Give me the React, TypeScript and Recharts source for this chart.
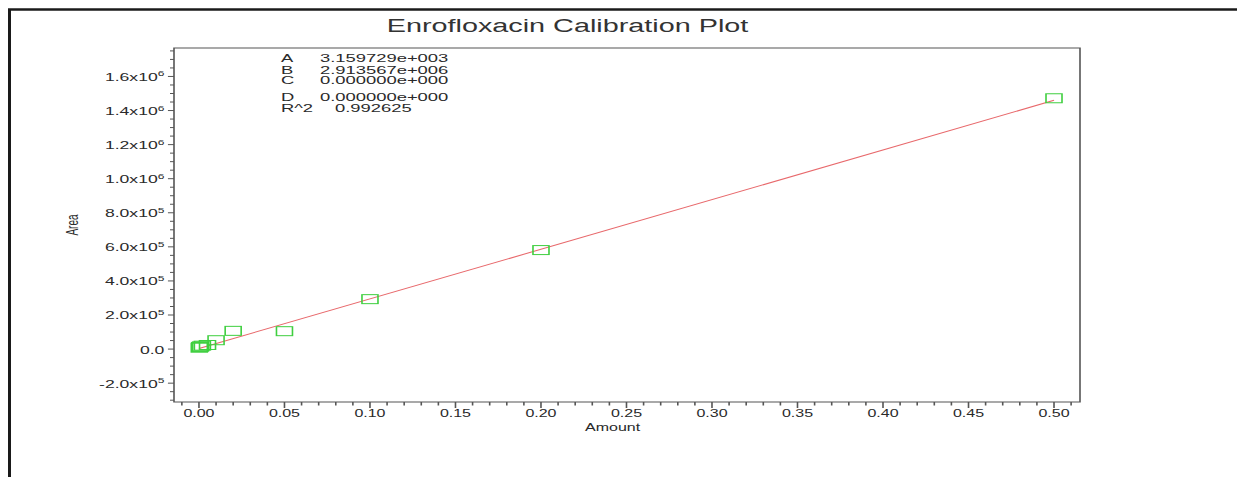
import React from "react";
import { ReferenceArea, Scatter, ScatterChart, XAxis, YAxis } from "recharts";

// calibration standards (amount vs peak area)
const amounts = [0.0002, 0.0005, 0.001, 0.002, 0.005, 0.01, 0.02, 0.05, 0.1, 0.2, 0.5];
const areas = [8000, 12000, 16000, 20000, 24000, 52000, 107000, 105000, 293000, 581000, 1472000];

// fitted line end points (A + B * x)
const fitAmounts = [0, 0.5];
const fitAreas = [3160, 1459943];

const coefNames = ["A", "B", "C", "D", "R^2"];
const coefValues = ["3.159729e+003", "2.913567e+006", "0.000000e+000", "0.000000e+000", "0.992625"];

const xMajorTicks = [0, 0.05, 0.1, 0.15, 0.2, 0.25, 0.3, 0.35, 0.4, 0.45, 0.5];
const yMajorTicks = [-200000, 0, 200000, 400000, 600000, 800000, 1000000, 1200000, 1400000, 1600000];

const X_DOMAIN: [number, number] = [-0.0146, 0.5152];
const Y_DOMAIN: [number, number] = [-310600, 1767000];

// the source image is stretched horizontally, so draw narrow and scale
const SX = 1.6;
const W = 1237 / SX;
const H = 477;
const FONT = "'Liberation Sans', Arial, sans-serif";
const INK = "#2a2a2a";
const AXIS = "#555";

const xMinorTicks = Array.from({ length: 53 }, (_, i) => Number((-0.01 + i * 0.01).toFixed(2)));
const yMinorTicks = Array.from({ length: 42 }, (_, i) => -300000 + i * 50000);

const points = amounts.map((a, i) => ({ amount: a, area: areas[i] }));
const fitLine = fitAmounts.map((a, i) => ({ amount: a, area: fitAreas[i] }));

const isMajorX = (v: number) => xMajorTicks.some((m) => Math.abs(m - v) < 1e-6);
const isMajorY = (v: number) => yMajorTicks.includes(v);

function XTick(props: any) {
  const { x, y, payload } = props;
  const major = isMajorX(payload.value);
  return (
    <g>
      <line x1={x} x2={x} y1={y} y2={y + (major ? 6 : 3.5)} stroke={AXIS} strokeWidth={1} />
      {major && (
        <text x={x} y={y + 15} textAnchor="middle" fontSize={10} fontFamily={FONT} fill={INK}>
          {payload.value.toFixed(2)}
        </text>
      )}
    </g>
  );
}

function YTick(props: any) {
  const { x, y, payload } = props;
  const v: number = payload.value;
  const major = isMajorY(v);
  let label: React.ReactNode = null;
  if (major) {
    if (v === 0) {
      label = "0.0";
    } else {
      const exp = Math.floor(Math.log10(Math.abs(v)));
      const mant = (v / Math.pow(10, exp)).toFixed(1);
      label = (
        <>
          {mant}x10
          <tspan dy={-4.5} fontSize={7.5}>
            {exp}
          </tspan>
        </>
      );
    }
  }
  return (
    <g>
      <line x1={x - (major ? 3.8 : 2.5)} x2={x} y1={y} y2={y} stroke={AXIS} strokeWidth={1} />
      {major && (
        <text x={x - 6} y={y + 4.5} textAnchor="end" fontSize={11} fontFamily={FONT} fill={INK}>
          {label}
        </text>
      )}
    </g>
  );
}

const Box = (p: any) => (
  <rect x={p.cx - 5} y={p.cy - 4.5} width={10} height={9} fill="none" stroke="#3fcf3f" strokeWidth={1} />
);

export default function App() {
  return (
    <div style={{ position: "absolute", left: 0, top: 0, width: 1237, height: H, background: "#fff", overflow: "hidden" }}>
      <svg width={1237} height={H} style={{ position: "absolute", left: 0, top: 0 }}>
        <line x1={9.5} y1={9} x2={9.5} y2={H} stroke="#1a1a1a" strokeWidth={3} />
        <line x1={8} y1={9.5} x2={1237} y2={9.5} stroke="#1a1a1a" strokeWidth={2.5} />
      </svg>
      <div style={{ position: "absolute", left: 0, top: 0, width: W, height: H, transform: `scaleX(${SX})`, transformOrigin: "0 0" }}>
        <ScatterChart width={W} height={H} margin={{ top: 48, right: W - 675, bottom: 45, left: 38.75 }}>
          <XAxis
            type="number"
            dataKey="amount"
            domain={X_DOMAIN}
            ticks={xMinorTicks}
            interval={0}
            tick={XTick}
            tickLine={false}
            tickSize={0}
            tickMargin={0}
            axisLine={false}
            height={30}
            label={{
              content: ({ viewBox }: any) => (
                <text x={viewBox.x + viewBox.width / 2 - 9} y={viewBox.y + 29} textAnchor="middle" fontSize={10} fontFamily={FONT} fill={INK}>
                  Amount
                </text>
              ),
            }}
          />
          <YAxis
            type="number"
            dataKey="area"
            domain={Y_DOMAIN}
            ticks={yMinorTicks}
            interval={0}
            tick={YTick}
            tickLine={false}
            tickSize={0}
            tickMargin={0}
            axisLine={false}
            width={70}
            label={{
              content: ({ viewBox }: any) => {
                const cx = viewBox.x + 6.5;
                const cy = viewBox.y + viewBox.height / 2;
                return (
                  <text x={cx} y={cy} transform={`rotate(-90 ${cx} ${cy})`} textAnchor="middle" dominantBaseline="central" fontSize={10} fontFamily={FONT} fill={INK}>
                    Area
                  </text>
                );
              },
            }}
          />
          <ReferenceArea
            x1={X_DOMAIN[0]}
            x2={X_DOMAIN[1]}
            y1={Y_DOMAIN[0]}
            y2={Y_DOMAIN[1]}
            fill="none"
            stroke={AXIS}
            strokeWidth={1}
            ifOverflow="visible"
          />
          <Scatter data={fitLine} line={{ stroke: "#e8696c", strokeWidth: 1 }} shape={() => <g />} isAnimationActive={false} />
          <Scatter data={points} shape={Box} isAnimationActive={false} />
        </ScatterChart>
        <svg width={W} height={H} style={{ position: "absolute", left: 0, top: 0, pointerEvents: "none" }}>
          <text x={354.7} y={32} textAnchor="middle" fontSize={18} fontFamily={FONT} fill="#333">
            Enrofloxacin Calibration Plot
          </text>
          {coefNames.map((n, i) => {
            const ys = [62, 73.7, 84, 101, 112];
            return (
              <g key={n}>
                <text x={175.6} y={ys[i]} fontSize={11.5} fontFamily={FONT} fill={INK}>
                  {n}
                </text>
                <text x={n === "R^2" ? 209.4 : 200} y={ys[i]} fontSize={11.5} fontFamily={FONT} fill={INK}>
                  {coefValues[i]}
                </text>
              </g>
            );
          })}
        </svg>
      </div>
    </div>
  );
}
